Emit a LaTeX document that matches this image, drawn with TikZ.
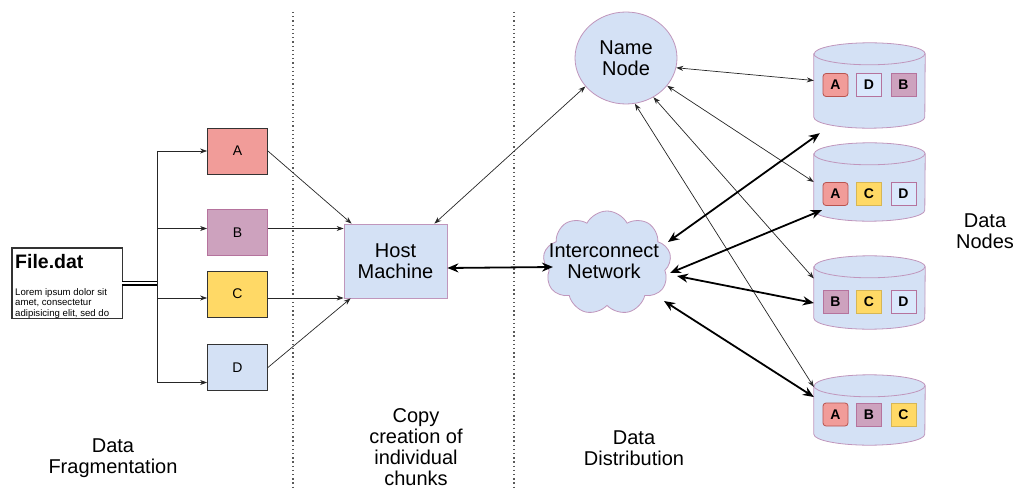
\documentclass[tikz,border=0pt]{standalone}
\usepackage{fontspec}
\setmainfont{Liberation Sans}
\usetikzlibrary{arrows.meta,shapes.symbols,shapes.geometric,calc}
\definecolor{cA}{HTML}{F19C99}
\definecolor{cAd}{HTML}{B85450}
\definecolor{cB}{HTML}{CDA2BE}
\definecolor{cBd}{HTML}{B5739D}
\definecolor{cC}{HTML}{FFD966}
\definecolor{cCd}{HTML}{D6B656}
\definecolor{cD}{HTML}{DAE8FC}
\definecolor{cBlue}{HTML}{D4E1F5}
\definecolor{cPink}{HTML}{C096BC}
\definecolor{cDark}{HTML}{333333}
\newcommand\drawcyl[1]{%
  \filldraw[fill=cBlue,draw=cPink,line width=0.8pt]
    ([yshift=-11pt]#1.north west) -- ([yshift=11pt]#1.south west)
    arc[start angle=180,end angle=360,x radius=55.5pt,y radius=11pt]
    -- ([yshift=-11pt]#1.north east)
    arc[start angle=0,end angle=180,x radius=55.5pt,y radius=11pt] -- cycle;
  \draw[draw=cPink,line width=0.8pt] ([yshift=-11pt]#1.north west)
    arc[start angle=180,end angle=360,x radius=55.5pt,y radius=11pt];
}
\begin{document}
\begin{tikzpicture}[x=1pt,y=-1pt,
  big/.style={font=\fontsize{20}{21}\selectfont, align=center, inner sep=0pt},
  fragbox/.style={minimum width=60pt, minimum height=46pt, inner sep=0pt, line width=0.8pt, font=\fontsize{14}{16}\selectfont},
  blk/.style={minimum width=25pt, minimum height=23pt, inner sep=0pt, line width=0.8pt, font=\bfseries\fontsize{14}{16}\selectfont},
  blkA/.style={blk, fill=cA, draw=cAd, rounded corners=3pt},
  blkB/.style={blk, fill=cB, draw=cBd},
  blkC/.style={blk, fill=cC, draw=cCd},
  blkD/.style={blk, fill=cD, draw=cBd},
  dnbox/.style={minimum width=111pt, inner sep=0pt},
  thinline/.style={line width=0.7pt, draw=black!85},
  oneway/.style={thinline, -{Stealth[length=7pt,width=5pt]}},
  twoway/.style={thinline, {Stealth[length=7pt,width=5pt]}-{Stealth[length=7pt,width=5pt]}},
  bigway/.style={line width=1.8pt, {Stealth[length=11pt,width=9pt]}-{Stealth[length=11pt,width=9pt]}},
  sep/.style={line width=1.3pt, draw=black!65, dash pattern=on 1.3pt off 2.9pt}
]
\useasboundingbox (0,0) rectangle (1016,489);

% separators
\draw[sep] (293,12) -- (293,489);
\draw[sep] (514,12) -- (514,489);

% file
\node[draw=cDark, fill=white, line width=0.8pt, minimum width=110pt, minimum height=70pt, inner sep=0pt] (file) at (67,283) {};
\node[anchor=base west, inner sep=0pt, font=\bfseries\fontsize{19.5}{22}\selectfont] (ftitle) at (15,268) {File.dat};
\begin{scope}
\clip (file.north west) rectangle (file.south east);
\node[anchor=base west, inner sep=0pt, font=\fontsize{9.6}{10.5}\selectfont] (l1) at (15,295) {Lorem ipsum dolor sit};
\node[anchor=base west, inner sep=0pt, font=\fontsize{9.6}{10.5}\selectfont] (l2) at (15,305.5) {amet, consectetur};
\node[anchor=base west, inner sep=0pt, font=\fontsize{9.6}{10.5}\selectfont] (l3) at (15,316) {adipisicing elit, sed do};
\end{scope}
\draw[draw=cDark, line width=0.8pt] (file.north west) rectangle (file.south east);

% fragments
\node[fragbox, fill=cA, draw=cDark] (A) at (237.5,151) {A};
\node[fragbox, fill=cB, draw=cBd] (B) at (237.5,232.5) {B};
\node[fragbox, fill=cC, draw=cDark] (C) at (237.5,294) {C};
\node[fragbox, fill=cBlue, draw=cDark] (D) at (237.5,367.5) {D};

\coordinate (split) at (157,283);
\coordinate (aIn) at (A.west);
\coordinate (bIn) at ([yshift=4pt]B.west);
\coordinate (cIn) at ([yshift=-4pt]C.west);
\coordinate (dIn) at ([yshift=-15pt]D.west);

\draw[line width=1.6pt, double, double distance=1.8pt] (file.east) -- (split);
\draw[thinline] (split |- aIn) -- (split |- dIn);
\draw[oneway] (split |- aIn) -- (aIn);
\draw[oneway] (split |- bIn) -- (bIn);
\draw[oneway] (split |- cIn) -- (cIn);
\draw[oneway] (split |- dIn) -- (dIn);

% host
\node[big, fill=cBlue, draw=cPink, line width=0.8pt, minimum width=103pt, minimum height=74pt] (host) at (395.5,261) {Host\\Machine};

\draw[oneway] (A.east) -- ([xshift=8pt]host.north west);
\draw[oneway] ([yshift=4pt]B.east) -- ([yshift=4pt]B.east -| host.west);
\draw[oneway] ([yshift=-4pt]C.east) -- ([yshift=-4pt]C.east -| host.west);
\draw[oneway] (D.east) -- ([xshift=7pt]host.south west);

% cloud
\node[cloud, cloud puffs=9, cloud puff arc=125, aspect=1.3, minimum width=128pt, minimum height=104pt, inner sep=0pt, fill=cBlue, draw=cPink, line width=0.8pt] (cloud) at (607,263) {};
\node[big] (cloudtxt) at (604,261) {Interconnect\\Network};

\draw[bigway] ([yshift=-7pt]host.east) -- ([xshift=-54pt,yshift=-4pt]cloud.center);

% name node
\node[ellipse, big, fill=cBlue, draw=cPink, line width=0.8pt, minimum width=102pt, minimum height=92pt] (nn) at (626,58) {Name\\Node};

% data nodes
\node[dnbox, minimum height=85pt] (dn1) at (869.5,85.5) {};
\node[dnbox, minimum height=78pt] (dn2) at (869.5,182) {};
\node[dnbox, minimum height=73pt] (dn3) at (869.5,292.5) {};
\node[dnbox, minimum height=70pt] (dn4) at (869.5,410) {};
\drawcyl{dn1}
\drawcyl{dn2}
\drawcyl{dn3}
\drawcyl{dn4}

\node[blkA] (a1) at (835.5,85) {A};
\node[blkD] (d1) at (869,85) {D};
\node[blkB] (b1) at (903.5,85) {B};
\node[blkA] (a2) at (835.5,194) {A};
\node[blkC] (c2) at (869,194) {C};
\node[blkD] (d2) at (903.5,194) {D};
\node[blkB] (b3) at (835.5,302) {B};
\node[blkC] (c3) at (869,302) {C};
\node[blkD] (d3) at (903.5,302) {D};
\node[blkA] (a4) at (835.5,414.5) {A};
\node[blkB] (b4) at (869,414.5) {B};
\node[blkC] (c4) at (903.5,414.5) {C};

% name node connections
\draw[twoway] ([xshift=-13pt]host.north east) -- (nn.215);
\draw[twoway] (nn.-11) -- ([yshift=5pt]dn1.west);
\draw[twoway] (nn.-34) -- (dn2.west);
\draw[twoway] (nn.-55) -- ([yshift=14pt]dn3.west);
\draw[twoway] (nn.-79) -- ([yshift=23pt]dn4.west);

% interconnect connections
\draw[bigway] ([xshift=61pt,yshift=21pt]cloud.center) -- ([xshift=6pt,yshift=-5pt]dn1.south west);
\draw[bigway] ([xshift=63pt,yshift=-10pt]cloud.center) -- ([xshift=8pt,yshift=11pt]dn2.south west);
\draw[bigway] ([xshift=70pt,yshift=-13pt]cloud.center) -- ([yshift=-10.5pt]dn3.west);
\draw[bigway] ([xshift=57pt,yshift=-38pt]cloud.center) -- ([yshift=13pt]dn4.west);

% labels
\node[big] (lab1) at (113,458.5) {Data\\Fragmentation};
\node[big] (lab2) at (416,447.5) {Copy\\creation of\\individual\\chunks};
\node[big] (lab3) at (634,448.5) {Data\\Distribution};
\node[big] (lab4) at (985,231) {Data\\Nodes};
\end{tikzpicture}
\end{document}
